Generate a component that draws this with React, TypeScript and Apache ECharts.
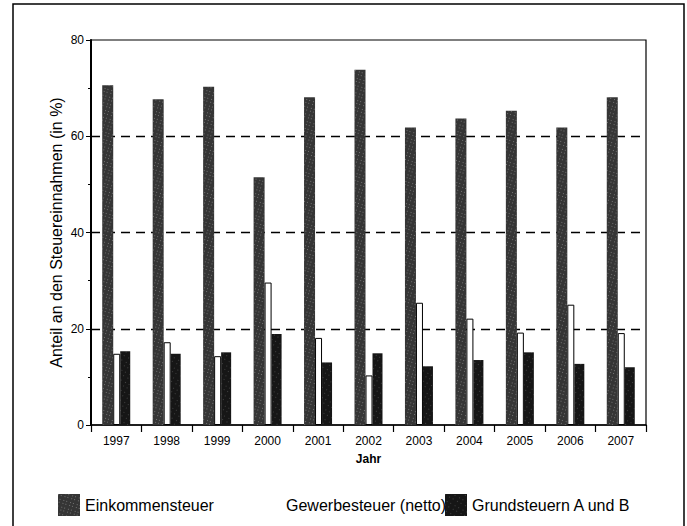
import React, { useEffect, useRef } from "react";
import * as echarts from "echarts";

const years = ["1997", "1998", "1999", "2000", "2001", "2002", "2003", "2004", "2005", "2006", "2007"];
const einkommensteuer = [70.6, 67.7, 70.3, 51.5, 68.1, 73.8, 61.8, 63.7, 65.3, 61.8, 68.1];
const gewerbesteuer = [14.8, 17.2, 14.3, 29.6, 18.1, 10.3, 25.4, 22.1, 19.2, 25.0, 19.1];
const grundsteuern = [15.3, 14.8, 15.1, 18.9, 13.0, 14.9, 12.2, 13.5, 15.1, 12.7, 12.0];
const yTicks = [0, 20, 40, 60, 80];

const SANS = "'Liberation Sans', Arial, sans-serif";

export default function App() {
  const ref = useRef<HTMLDivElement>(null);
  useEffect(() => {
    if (!ref.current) return;
    const chart = echarts.init(ref.current, null, { renderer: "svg" });
    const legendText = { fontFamily: SANS, fontSize: 16, color: "#000" };
    const legendBase = { top: 489, itemWidth: 22, itemHeight: 22, itemGap: 0, icon: "rect", textStyle: legendText };
    chart.setOption({
      animation: false,
      backgroundColor: "#fff",
      grid: { left: 91, right: 41, top: 40, bottom: 101, show: true, borderColor: "#000", borderWidth: 1.2 },
      graphic: [
        {
          type: "rect",
          shape: { x: 13, y: 4, width: 671, height: 560 },
          style: { fill: "none", stroke: "#000", lineWidth: 1.5 },
          silent: true,
        },
      ],
      legend: [
        { ...legendBase, data: ["Einkommensteuer"], left: 53 },
        { ...legendBase, data: ["Gewerbesteuer (netto)"], left: 254, itemStyle: { borderWidth: 0 } },
        { ...legendBase, data: ["Grundsteuern A und B"], left: 440 },
      ],
      xAxis: {
        type: "category",
        data: years,
        name: "Jahr",
        nameLocation: "middle",
        nameGap: 28,
        nameTextStyle: { fontFamily: SANS, fontSize: 12, fontWeight: "bold", color: "#000" },
        axisLine: { lineStyle: { color: "#000", width: 1.5 } },
        axisTick: { show: true, length: 7, lineStyle: { color: "#000", width: 1.2 } },
        axisLabel: { fontFamily: SANS, fontSize: 12, color: "#000", margin: 10 },
      },
      yAxis: {
        type: "value",
        min: yTicks[0],
        max: yTicks[yTicks.length - 1],
        interval: 20,
        name: "Anteil an den Steuereinnahmen (in %)",
        nameLocation: "middle",
        nameMoveOverlap: false,
        nameGap: 27,
        nameTextStyle: { fontFamily: SANS, fontSize: 16, color: "#000" },
        axisLine: { show: true, lineStyle: { color: "#000", width: 2 } },
        axisTick: { show: true, length: 5, lineStyle: { color: "#000", width: 1 } },
        minorTick: { show: true, splitNumber: 2, length: 3, lineStyle: { color: "#000", width: 1 } },
        axisLabel: { fontFamily: SANS, fontSize: 12, color: "#000", margin: 7 },
        splitLine: {
          show: true,
          showMinLine: false,
          showMaxLine: false,
          lineStyle: { color: "#000", width: 1.3, type: [9, 6] },
        },
      },
      series: [
        {
          name: "Einkommensteuer",
          type: "bar",
          data: einkommensteuer,
          barWidth: 11,
          barGap: "0%",
          itemStyle: {
            color: "#353535",
            decal: {
              symbol: "rect",
              symbolSize: 1,
              color: "rgba(255,255,255,0.3)",
              dashArrayX: [[1, 2, 1, 3]],
              dashArrayY: [1, 3, 1, 2],
              rotation: 0.3,
            },
          },
        },
        {
          name: "Gewerbesteuer (netto)",
          type: "bar",
          data: gewerbesteuer,
          barWidth: 7,
          barGap: "0%",
          itemStyle: { color: "#fff", borderColor: "#000", borderWidth: 1 },
        },
        {
          name: "Grundsteuern A und B",
          type: "bar",
          data: grundsteuern,
          barWidth: 10,
          barGap: "0%",
          itemStyle: {
            color: "#161616",
            decal: {
              symbol: "rect",
              symbolSize: 1,
              color: "rgba(255,255,255,0.18)",
              dashArrayX: [[1, 4, 1, 3]],
              dashArrayY: [1, 4, 1, 3],
              rotation: 0.5,
            },
          },
        },
      ],
    });
    return () => chart.dispose();
  }, []);
  return (
    <div
      ref={ref}
      style={{ position: "fixed", left: 0, top: 0, width: 687, height: 526, background: "#fff" }}
    />
  );
}
